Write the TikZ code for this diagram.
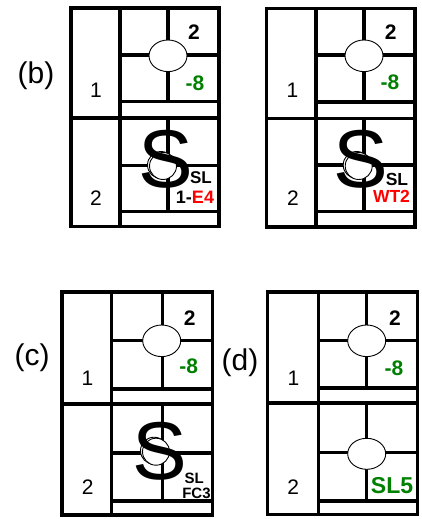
\documentclass[tikz,border=0pt]{standalone}
\usepackage{fontspec}
\setmainfont{Liberation Sans}
\definecolor{grn}{RGB}{0,128,0}
\definecolor{rd}{RGB}{255,0,0}
\newcommand\fs[1]{\fontsize{#1}{#1}\selectfont}
\tikzset{
  outerline/.style={line width=3.4pt},
  gridline/.style={line width=3.2pt},
  ring/.style={draw, line width=0.9pt, fill=white},
  lab/.style={inner sep=0pt, anchor=base},
  numlab/.style={lab, font=\fs{21}},
  toplab/.style={lab, font=\bfseries\fs{21}},
  grnlab/.style={lab, font=\bfseries\fs{21}, text=grn},
  bigS/.style={lab, font=\fs{82}},
  panellab/.style={lab, font=\fs{30}},
}
% x: left inner column right ; y: top h1 strip1 mid h2 strip2 bottom
\newcommand\mypanel[4]{\def\pnlL{#1}\def\pnlI{#2}\def\pnlC{#3}\def\pnlR{#4}\mypanelY}
\newcommand\mypanelY[7]{%
  \draw[gridline] (\pnlL,#4) -- (\pnlR,#4);
  \draw[gridline] (\pnlI,#1) -- (\pnlI,#7);
  \draw[gridline] (\pnlI,#2) -- (\pnlR,#2);
  \draw[gridline] (\pnlI,#3) -- (\pnlR,#3);
  \draw[gridline] (\pnlI,#5) -- (\pnlR,#5);
  \draw[gridline] (\pnlI,#6) -- (\pnlR,#6);
  \draw[gridline] (\pnlC,#1) -- (\pnlC,#3);
  \draw[gridline] (\pnlC,#4) -- (\pnlC,#6);
  \draw[outerline] (\pnlL,#1) rectangle (\pnlR,#7);
}
\begin{document}
\begin{tikzpicture}[x=1pt,y=-1pt]
\useasboundingbox (0,0) rectangle (422,519);
\fill[white] (0,0) rectangle (422,519);

% ---------- panel (b) ----------
\mypanel{71}{120}{168}{219}{8}{55}{101.5}{118}{165.5}{211.5}{226.5}
\draw[ring] (168,55.8) ellipse [x radius=19pt, y radius=15.8pt];
\draw[ring] (161,165) circle [radius=13.5pt];
\draw[ring] (163,166) circle [radius=13.5pt];
\node[panellab] (lb) at (36,84) {(b)};
\node[toplab] (b2) at (194,40) {2};
\node[grnlab] (b8) at (195,90) {-8};
\node[numlab] (b1) at (96,97.5) {1};
\node[numlab] (b2l) at (96,205) {2};
\node[bigS] (bS) at (165.9,187.3) {S};
\node[lab, font=\bfseries\fs{17}] (bSL) at (201,183) {SL};
\node[lab, font=\bfseries\fs{18}] (bE) at (195,203) {1-\textcolor{rd}{E4}};

% ---------- panel (b) right ----------
\mypanel{266.7}{316}{364}{415}{8.3}{55}{102}{118.3}{165}{211.7}{227}
\draw[ring] (364,55.8) ellipse [x radius=19pt, y radius=15.8pt];
\draw[ring] (356.7,165) circle [radius=13.5pt];
\draw[ring] (358.7,166) circle [radius=13.5pt];
\node[toplab] (w2) at (390.8,40) {2};
\node[grnlab] (w8) at (390,89) {-8};
\node[numlab] (w1) at (292.5,97.5) {1};
\node[numlab] (w2l) at (293,205.5) {2};
\node[bigS] (wS) at (361.3,187.3) {S};
\node[lab, font=\bfseries\fs{17.5}] (wSL) at (397,185) {SL};
\node[lab, font=\bfseries\fs{17.5}, text=rd] (wWT) at (391.5,202) {WT2};

% ---------- panel (c) ----------
\mypanel{62}{111.7}{162.3}{212.3}{292}{340.5}{389}{404}{453}{501}{515}
\draw[ring] (161.7,340.8) ellipse [x radius=19pt, y radius=15.8pt];
\draw[ring] (154,450.7) circle [radius=13.5pt];
\draw[ring] (156,451.7) circle [radius=13.5pt];
\node[panellab] (lc) at (32,365) {(c)};
\node[toplab] (c2) at (189.7,325.5) {2};
\node[grnlab] (c8) at (188.7,373) {-8};
\node[numlab] (c1) at (87.5,385) {1};
\node[numlab] (c2l) at (87.7,494) {2};
\node[bigS] (cS) at (160,479) {S};
\node[lab, font=\bfseries\fs{15}] (cSL) at (194.3,483) {SL};
\node[lab, font=\bfseries\fs{15}] (cFC) at (196.5,498.3) {FC3};

% ---------- panel (d) ----------
\mypanel{267.3}{318.3}{366.7}{417.3}{292}{340.5}{388}{403}{452.7}{501}{514.5}
\draw[ring] (366.7,340.8) ellipse [x radius=19pt, y radius=15.8pt];
\draw[ring] (366.7,453.8) ellipse [x radius=19pt, y radius=15.5pt];
\node[panellab] (ld) at (240,370) {(d)};
\node[toplab] (d2) at (395,325) {2};
\node[grnlab] (d8) at (394,375) {-8};
\node[numlab] (d1) at (293.5,385.5) {1};
\node[numlab] (d2l) at (293.3,494.5) {2};
\node[lab, font=\bfseries\fs{23}, text=grn] (dSL) at (392,493.5) {SL5};
\end{tikzpicture}
\end{document}
